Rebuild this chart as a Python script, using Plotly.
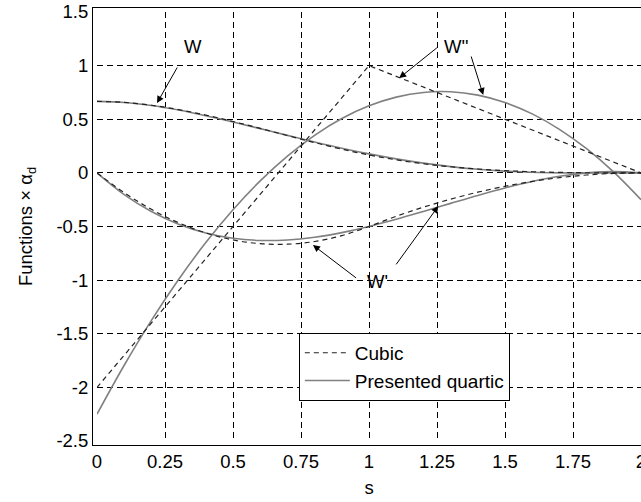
import plotly.graph_objects as go

s = [0.0, 0.1, 0.2, 0.3, 0.4, 0.5, 0.6, 0.7, 0.8, 0.9, 1.0,
     1.1, 1.2, 1.3, 1.4, 1.5, 1.6, 1.7, 1.8, 1.9, 2.0]

cubic_W = [0.6667, 0.6572, 0.6307, 0.5902, 0.5387, 0.4792, 0.4147, 0.3482, 0.2827, 0.2212, 0.1667,
           0.1215, 0.0853, 0.0572, 0.0360, 0.0208, 0.0107, 0.0045, 0.0013, 0.0002, 0.0]
cubic_dW = [0.0, -0.185, -0.34, -0.465, -0.56, -0.625, -0.66, -0.665, -0.64, -0.585, -0.5,
            -0.405, -0.32, -0.245, -0.18, -0.125, -0.08, -0.045, -0.02, -0.005, 0.0]
cubic_d2W = [-2.0, -1.7, -1.4, -1.1, -0.8, -0.5, -0.2, 0.1, 0.4, 0.7, 1.0,
             0.9, 0.8, 0.7, 0.6, 0.5, 0.4, 0.3, 0.2, 0.1, 0.0]

quart_W = [0.6667, 0.6562, 0.6277, 0.5855, 0.5333, 0.4746, 0.4124, 0.3494, 0.2880, 0.2300, 0.1771,
           0.1304, 0.0907, 0.0584, 0.0338, 0.0163, 0.0053, -0.0001, -0.0016, -0.0006, 0.0]
quart_dW = [0.0, -0.2019, -0.36, -0.4781, -0.56, -0.6094, -0.63, -0.6256, -0.6, -0.5569, -0.5,
            -0.4331, -0.36, -0.2844, -0.21, -0.1406, -0.08, -0.0319, 0.0, 0.0119, 0.0]
quart_d2W = [-2.25, -1.7938, -1.375, -0.9938, -0.65, -0.3438, -0.075, 0.1563, 0.35, 0.5063, 0.625,
             0.7063, 0.75, 0.7563, 0.725, 0.6563, 0.55, 0.4063, 0.225, 0.0063, -0.25]

x_ticks = [0, 0.25, 0.5, 0.75, 1, 1.25, 1.5, 1.75, 2]
x_ticktext = ["0", "0.25", "0.5", "0.75", "1", "1.25", "1.5", "1.75", "2"]
y_ticks = [-2.5, -2, -1.5, -1, -0.5, 0, 0.5, 1, 1.5]
y_ticktext = ["-2.5", "-2", "-1.5", "-1", "-0.5", "0", "0.5", "1", "1.5"]

FONT = "Liberation Sans, Arial, sans-serif"
FS = 18.5
QCOL = "#808080"
CCOL = "#222222"

fig = go.Figure()
for i, ys in enumerate([quart_W, quart_dW, quart_d2W]):
    fig.add_trace(go.Scatter(x=s, y=ys, mode="lines", line=dict(color=QCOL, width=1.6, shape="spline"),
                             name="Presented quartic", showlegend=(i == 0), legendrank=2))
for i, ys in enumerate([cubic_W, cubic_dW]):
    fig.add_trace(go.Scatter(x=s, y=ys, mode="lines", line=dict(color=CCOL, width=1.2, dash="5px,4px", shape="spline"),
                             name="Cubic", showlegend=(i == 0), legendrank=1))
fig.add_trace(go.Scatter(x=s, y=cubic_d2W, mode="lines", line=dict(color=CCOL, width=1.2, dash="5px,4px"),
                         name="Cubic", showlegend=False))

arrows = [
    (0.298, 0.996, 0.2206, 0.651),
    (1.255, 1.177, 1.111, 0.884),
    (1.374, 1.099, 1.420, 0.726),
    (0.958, -0.99, 0.794, -0.673),
    (1.096, -0.867, 1.255, -0.31),
]
for ax_, ay_, hx, hy in arrows:
    fig.add_annotation(x=hx, y=hy, ax=ax_, ay=ay_, axref="x", ayref="y", xref="x", yref="y",
                       text="", showarrow=True, arrowhead=2, arrowsize=1.4, arrowwidth=1, arrowcolor="black")

labels = [("W", 0.353, 1.183), ("W''", 1.322, 1.18), ("W'", 1.033, -1.016)]
for t, lx, ly in labels:
    fig.add_annotation(x=lx, y=ly, xref="x", yref="y", text=t, showarrow=False,
                       font=dict(family=FONT, size=FS, color="black"), bgcolor="rgba(0,0,0,0)")

axis_common = dict(showline=True, linecolor="black", linewidth=1, mirror=True,
                   showgrid=True, gridcolor="black", gridwidth=1, griddash="6px,4px",
                   zeroline=False, ticks="", automargin=False, ticklabeloverflow="allow",
                   tickfont=dict(family=FONT, size=FS, color="black"))

fig.update_xaxes(range=[0, 2], tickvals=x_ticks, ticktext=x_ticktext,
                 title=dict(text="s", font=dict(family=FONT, size=FS, color="black"), standoff=13),
                 **axis_common)
fig.update_yaxes(range=[-2.5, 1.5], tickvals=y_ticks, ticktext=y_ticktext,
                 title=dict(text="Functions × α<sub>d</sub>", font=dict(family=FONT, size=FS, color="black"), standoff=22),
                 **axis_common)

fig.update_layout(
    width=641, height=502,
    margin=dict(l=97, r=0, t=12, b=61, pad=4),
    paper_bgcolor="white", plot_bgcolor="white",
    font=dict(family=FONT, size=FS, color="black"),
    legend=dict(x=0.371, y=0.252, xanchor="left", yanchor="top",
                bordercolor="black", borderwidth=1, bgcolor="white",
                font=dict(family=FONT, size=19, color="black"),
                tracegroupgap=0, itemwidth=45),
)

fig.write_html("out.html", config={"displayModeBar": False},
               post_script="document.body.style.margin='0';document.body.style.overflow='hidden';")
